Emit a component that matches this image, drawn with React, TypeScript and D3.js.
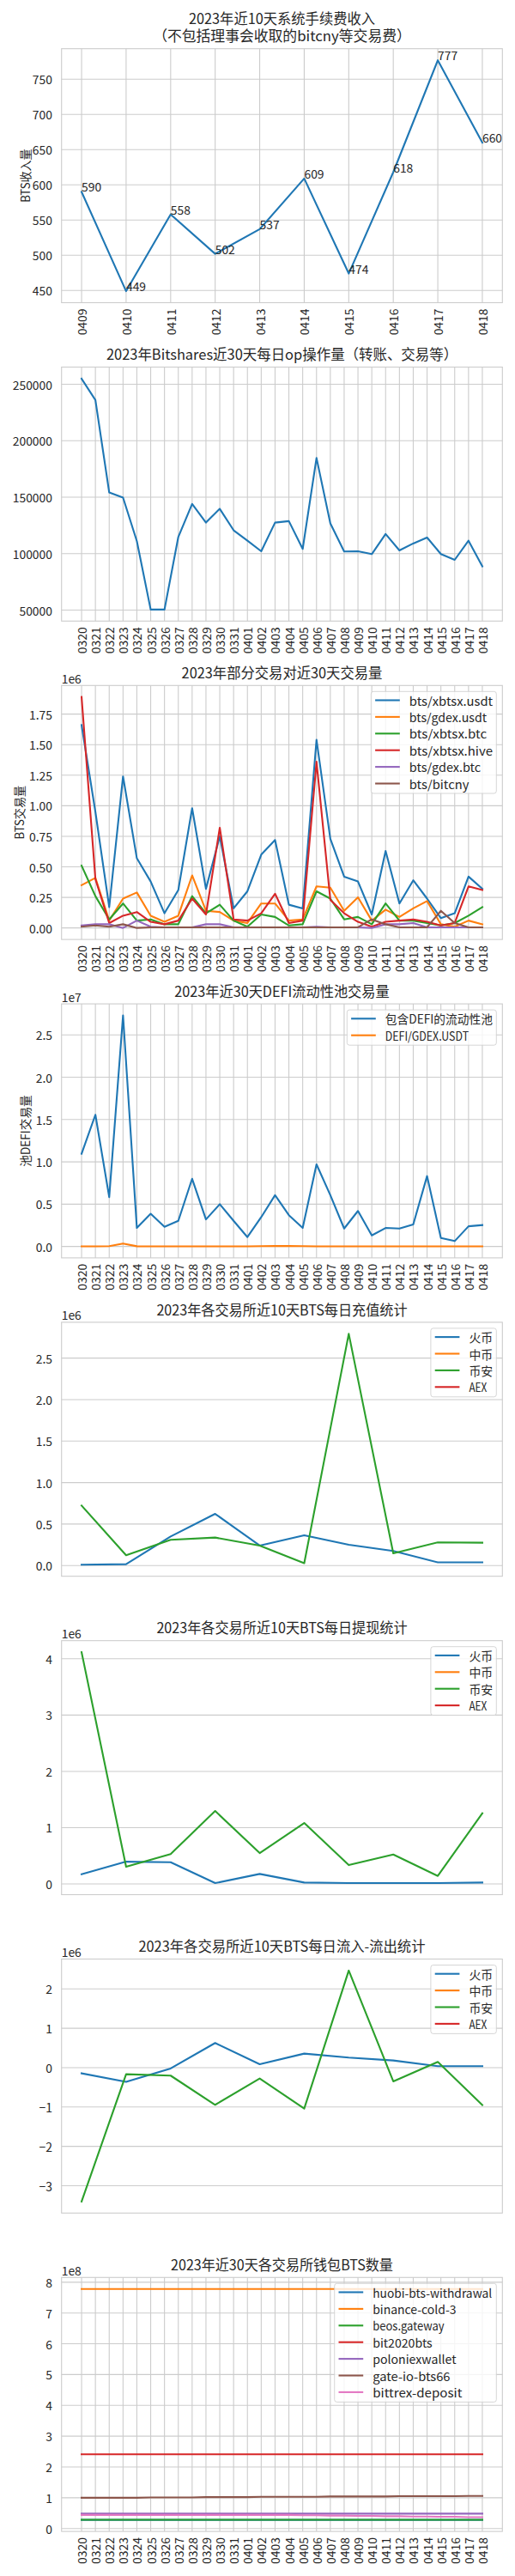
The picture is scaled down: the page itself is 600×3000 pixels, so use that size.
import React from "react";
import * as d3 from "d3";

const FONT = '"Noto Sans CJK SC", "Noto Sans", sans-serif';
const C = ["#1f77b4", "#ff7f0e", "#2ca02c", "#d62728", "#9467bd", "#8c564b", "#e377c2"];

// ---------- categories ----------
const days30 = ["0320","0321","0322","0323","0324","0325","0326","0327","0328","0329","0330","0331","0401","0402","0403","0404","0405","0406","0407","0408","0409","0410","0411","0412","0413","0414","0415","0416","0417","0418"];
const days10 = ["0409","0410","0411","0412","0413","0414","0415","0416","0417","0418"];

// ---------- panel 1: fee income ----------
const feeIncome = [590, 449, 558, 502, 537, 609, 474, 618, 777, 660];
const p1Ticks = [450, 500, 550, 600, 650, 700, 750];

// ---------- panel 2: daily op count ----------
const opCount = [255000,236000,154200,149600,111000,50500,50500,114800,144000,127500,139700,120700,111500,102100,127500,128800,104200,184700,126800,101900,102100,99600,117400,102900,109000,114300,99600,94500,111500,88700];
const p2Ticks = [50000, 100000, 150000, 200000, 250000];

// ---------- panel 3: pair volumes (x1e6) ----------
const xbtsxUsdt = [1.66,0.95,0.17,1.24,0.57,0.38,0.12,0.31,0.98,0.32,0.75,0.16,0.30,0.60,0.72,0.19,0.16,1.54,0.73,0.42,0.38,0.11,0.63,0.20,0.39,0.24,0.08,0.12,0.42,0.32];
const gdexUsdt = [0.35,0.41,0.06,0.24,0.29,0.10,0.05,0.10,0.43,0.14,0.13,0.06,0.04,0.20,0.20,0.06,0.07,0.34,0.33,0.14,0.25,0.06,0.15,0.09,0.16,0.22,0.03,0.01,0.06,0.03];
const xbtsxBtc = [0.51,0.26,0.07,0.20,0.06,0.07,0.03,0.03,0.26,0.12,0.19,0.06,0.01,0.11,0.09,0.02,0.03,0.30,0.24,0.07,0.09,0.03,0.20,0.06,0.06,0.04,0.02,0.04,0.10,0.17];
const xbtsxHive = [1.89,0.40,0.04,0.10,0.13,0.05,0.03,0.06,0.24,0.11,0.82,0.07,0.06,0.12,0.28,0.04,0.06,1.36,0.23,0.12,0.05,0.01,0.05,0.06,0.07,0.05,0.02,0.04,0.34,0.31];
const gdexBtc = [0.02,0.03,0.03,0.00,0.06,0.01,0.005,0.005,0.005,0.03,0.03,0.005,0.005,0.005,0.005,0.005,0.005,0.01,0.005,0.005,0.005,0.00,0.03,0.03,0.04,0.005,0.005,0.005,0.005,0.005];
const bitcny = [0.01,0.02,0.01,0.03,0.00,0.005,0.005,0.005,0.005,0.005,0.005,0.005,0.005,0.005,0.005,0.005,0.005,0.005,0.005,0.005,0.005,0.07,0.03,0.005,0.005,0.005,0.14,0.04,0.005,0.005];
const p3Ticks = [0, 0.25, 0.5, 0.75, 1, 1.25, 1.5, 1.75];

// ---------- panel 4: DEFI pools (x1e7) ----------
const defiPools = [1.095,1.556,0.583,2.73,0.219,0.387,0.232,0.303,0.80,0.32,0.50,0.303,0.111,0.347,0.606,0.37,0.219,0.97,0.606,0.212,0.42,0.131,0.219,0.212,0.26,0.832,0.10,0.064,0.239,0.253];
const defiGdexUsdt = [0.002,0.002,0.004,0.035,0.003,0.002,0.002,0.002,0.002,0.002,0.002,0.002,0.002,0.004,0.005,0.005,0.004,0.002,0.002,0.002,0.002,0.002,0.002,0.002,0.002,0.002,0.002,0.002,0.002,0.002];
const p4Ticks = [0, 0.5, 1, 1.5, 2, 2.5];

// ---------- panels 5-7: exchanges (x1e6) ----------
const exchanges = ["火币", "中币", "币安", "AEX"];
const huobiDeposit = [0.010,0.017,0.35,0.623,0.241,0.365,0.251,0.176,0.038,0.038];
const binanceDeposit = [0.723,0.124,0.31,0.337,0.241,0.028,2.793,0.148,0.279,0.275];
const huobiWithdraw = [0.173,0.396,0.386,0.015,0.178,0.025,0.015,0.015,0.015,0.025];
const binanceWithdraw = [4.117,0.305,0.529,1.296,0.549,1.083,0.335,0.523,0.142,1.255];
const huobiNet = [-0.145,-0.363,-0.022,0.625,0.087,0.356,0.254,0.182,0.036,0.036];
const binanceNet = [-3.40,-0.167,-0.203,-0.945,-0.276,-1.039,2.464,-0.349,0.145,-0.952];
const noData10: (number | null)[] = [null,null,null,null,null,null,null,null,null,null];
const p5Ticks = [0, 0.5, 1, 1.5, 2, 2.5];
const p6Ticks = [0, 1, 2, 3, 4];
const p7Ticks = [-3, -2, -1, 0, 1, 2];

// ---------- panel 8: wallets (x1e8) ----------
const wallets = ["huobi-bts-withdrawal","binance-cold-3","beos.gateway","bit2020bts","poloniexwallet","gate-io-bts66","bittrex-deposit"];
const huobiWallet = [0.28,0.28,0.28,0.28,0.28,0.28,0.28,0.28,0.28,0.28,0.28,0.28,0.28,0.28,0.28,0.28,0.28,0.28,0.28,0.28,0.28,0.28,0.28,0.28,0.28,0.28,0.28,0.28,0.28,0.28];
const binanceCold = [7.78,7.78,7.78,7.78,7.78,7.78,7.78,7.78,7.78,7.78,7.78,7.78,7.78,7.78,7.78,7.78,7.78,7.78,7.78,7.78,7.78,7.78,7.78,7.78,7.78,7.78,7.78,7.78,7.78,7.78];
const beosGateway = [0.285,0.285,0.285,0.285,0.285,0.285,0.285,0.285,0.285,0.285,0.285,0.285,0.285,0.285,0.285,0.285,0.285,0.285,0.285,0.285,0.285,0.285,0.285,0.285,0.285,0.285,0.285,0.285,0.285,0.285];
const bit2020 = [2.41,2.41,2.41,2.41,2.41,2.41,2.41,2.41,2.41,2.41,2.41,2.41,2.41,2.41,2.41,2.41,2.41,2.41,2.41,2.41,2.41,2.41,2.41,2.41,2.41,2.41,2.41,2.41,2.41,2.41];
const poloniex = [0.484,0.484,0.484,0.484,0.484,0.484,0.484,0.484,0.484,0.484,0.484,0.484,0.484,0.484,0.484,0.484,0.484,0.484,0.484,0.484,0.484,0.484,0.484,0.484,0.484,0.484,0.484,0.484,0.484,0.484];
const gateio = [1.00,1.00,1.00,1.00,1.00,1.01,1.01,1.01,1.01,1.02,1.02,1.02,1.02,1.03,1.03,1.03,1.03,1.03,1.04,1.04,1.04,1.04,1.04,1.05,1.05,1.05,1.05,1.05,1.06,1.06];
const bittrex = [0.44,0.44,0.44,0.44,0.44,0.44,0.44,0.44,0.44,0.44,0.44,0.44,0.44,0.44,0.44,0.44,0.43,0.43,0.42,0.42,0.41,0.41,0.40,0.40,0.39,0.39,0.38,0.38,0.37,0.37];
const p8Ticks = [0, 1, 2, 3, 4, 5, 6, 7, 8];

// ---------- layout ----------
const AX_L = 71.7;
const AX_R = 585.3;
const FIRST_TOP = 56.7;
const STEP = 370.8;
const AX_H = 295.8;
const FS = 13.9;
const TFS = 16.7;
const TXT = "#262626";
const GRID = "#cccccc";

type Series = { name: string; color: string; values: (number | null)[] };
type PanelSpec = {
  title: string[];
  categories: string[];
  showX: boolean;
  ticks: number[];
  fmt: string;
  offset?: string;
  yLabel?: string;
  yLabelX?: number;
  legendWidth?: number;
  annotate?: boolean;
  series: Series[];
};

function simLen(s: string, fs: number) {
  let n = 0;
  for (const ch of s) n += ch.charCodeAt(0) > 255 ? 1 : 0.5;
  return n * fs;
}

const panels: PanelSpec[] = [
  {
    title: ["2023年近10天系统手续费收入", "（不包括理事会收取的bitcny等交易费）"],
    categories: days10, showX: true, ticks: p1Ticks, fmt: "d",
    yLabel: "BTS收入量", yLabelX: 28.7, annotate: true,
    series: [{ name: "fee", color: C[0], values: feeIncome }],
  },
  {
    title: ["2023年Bitshares近30天每日op操作量（转账、交易等）"],
    categories: days30, showX: true, ticks: p2Ticks, fmt: "d",
    series: [{ name: "op", color: C[0], values: opCount }],
  },
  {
    title: ["2023年部分交易对近30天交易量"],
    categories: days30, showX: true, ticks: p3Ticks, fmt: ".2f", offset: "1e6",
    yLabel: "BTS交易量", yLabelX: 22, legendWidth: 146,
    series: [
      { name: "bts/xbtsx.usdt", color: C[0], values: xbtsxUsdt },
      { name: "bts/gdex.usdt", color: C[1], values: gdexUsdt },
      { name: "bts/xbtsx.btc", color: C[2], values: xbtsxBtc },
      { name: "bts/xbtsx.hive", color: C[3], values: xbtsxHive },
      { name: "bts/gdex.btc", color: C[4], values: gdexBtc },
      { name: "bts/bitcny", color: C[5], values: bitcny },
    ],
  },
  {
    title: ["2023年近30天DEFI流动性池交易量"],
    categories: days30, showX: true, ticks: p4Ticks, fmt: ".1f", offset: "1e7",
    yLabel: "池DEFI交易量", yLabelX: 28.7, legendWidth: 174,
    series: [
      { name: "包含DEFI的流动性池", color: C[0], values: defiPools },
      { name: "DEFI/GDEX.USDT", color: C[1], values: defiGdexUsdt },
    ],
  },
  {
    title: ["2023年各交易所近10天BTS每日充值统计"],
    categories: days10, showX: false, ticks: p5Ticks, fmt: ".1f", offset: "1e6", legendWidth: 76.4,
    series: [
      { name: exchanges[0], color: C[0], values: huobiDeposit },
      { name: exchanges[1], color: C[1], values: noData10 },
      { name: exchanges[2], color: C[2], values: binanceDeposit },
      { name: exchanges[3], color: C[3], values: noData10 },
    ],
  },
  {
    title: ["2023年各交易所近10天BTS每日提现统计"],
    categories: days10, showX: false, ticks: p6Ticks, fmt: "d", offset: "1e6", legendWidth: 76.4,
    series: [
      { name: exchanges[0], color: C[0], values: huobiWithdraw },
      { name: exchanges[1], color: C[1], values: noData10 },
      { name: exchanges[2], color: C[2], values: binanceWithdraw },
      { name: exchanges[3], color: C[3], values: noData10 },
    ],
  },
  {
    title: ["2023年各交易所近10天BTS每日流入-流出统计"],
    categories: days10, showX: false, ticks: p7Ticks, fmt: "d", offset: "1e6", legendWidth: 76.4,
    series: [
      { name: exchanges[0], color: C[0], values: huobiNet },
      { name: exchanges[1], color: C[1], values: noData10 },
      { name: exchanges[2], color: C[2], values: binanceNet },
      { name: exchanges[3], color: C[3], values: noData10 },
    ],
  },
  {
    title: ["2023年近30天各交易所钱包BTS数量"],
    categories: days30, showX: true, ticks: p8Ticks, fmt: "d", offset: "1e8", legendWidth: 188.6,
    series: [
      { name: wallets[0], color: C[0], values: huobiWallet },
      { name: wallets[1], color: C[1], values: binanceCold },
      { name: wallets[2], color: C[2], values: beosGateway },
      { name: wallets[3], color: C[3], values: bit2020 },
      { name: wallets[4], color: C[4], values: poloniex },
      { name: wallets[5], color: C[5], values: gateio },
      { name: wallets[6], color: C[6], values: bittrex },
    ],
  },
];

function Panel({ spec, index }: { spec: PanelSpec; index: number }) {
  const top = FIRST_TOP + index * STEP;
  const bottom = top + AX_H;
  const n = spec.categories.length;
  const x = d3.scaleLinear().domain([-(n - 1) * 0.05, (n - 1) * 1.05]).range([AX_L, AX_R]);
  const all: number[] = [];
  spec.series.forEach((s) => s.values.forEach((v) => { if (v != null) all.push(v); }));
  const mn = d3.min(all) as number;
  const mx = d3.max(all) as number;
  const pad = (mx - mn) * 0.05;
  const y = d3.scaleLinear().domain([mn - pad, mx + pad]).range([bottom, top]);
  const fmt = d3.format(spec.fmt);
  const line = d3
    .line<number | null>()
    .defined((v) => v != null)
    .x((_, i) => x(i))
    .y((v) => y(v as number));
  const cx = (AX_L + AX_R) / 2;
  const nt = spec.title.length;

  const legend = spec.legendWidth
    ? (() => {
        const w = spec.legendWidth as number;
        const k = spec.series.length;
        const rowH = 19.4;
        const h = 21.7 + (k - 1) * rowH;
        const lx = AX_R - 7 - w;
        const ly = top + 7;
        return (
          <g>
            <rect x={lx} y={ly} width={w} height={h} rx={2.8} fill="#fff" fillOpacity={0.8} stroke={GRID} strokeOpacity={0.8} strokeWidth={1} />
            {spec.series.map((s, i) => {
              const ry = ly + 10.2 + i * rowH;
              return (
                <g key={i}>
                  <line x1={lx + 4.8} x2={lx + 33.5} y1={ry} y2={ry} stroke={s.color} strokeWidth={2.1} />
                  <text x={lx + 44.5} y={ry} dominantBaseline="central" fontSize={FS} fill={TXT}
                    textLength={simLen(s.name, FS)} lengthAdjust="spacingAndGlyphs">{s.name}</text>
                </g>
              );
            })}
          </g>
        );
      })()
    : null;

  return (
    <g>
      {spec.title.map((t, i) => (
        <text key={i} x={cx} y={top - 8.3 - (nt - 1 - i) * 20} textAnchor="middle" fontSize={TFS} fill={TXT}
          textLength={simLen(t, TFS)} lengthAdjust="spacingAndGlyphs">{t}</text>
      ))}
      {spec.ticks.map((t) => (
        <line key={"g" + t} x1={AX_L} x2={AX_R} y1={y(t)} y2={y(t)} stroke={GRID} strokeWidth={1.1} />
      ))}
      {spec.showX &&
        spec.categories.map((c, i) => (
          <line key={"v" + c} x1={x(i)} x2={x(i)} y1={top} y2={bottom} stroke={GRID} strokeWidth={1.1} />
        ))}
      {spec.ticks.map((t) => (
        <text key={"t" + t} x={61} y={y(t)} textAnchor="end" dominantBaseline="central" fontSize={FS} fill={TXT}>
          {fmt(t)}
        </text>
      ))}
      {spec.showX &&
        spec.categories.map((c, i) => (
          <text key={"x" + c} transform={`translate(${x(i)},${bottom + 7}) rotate(-90)`} textAnchor="end"
            dominantBaseline="central" fontSize={FS} fill={TXT}>{c}</text>
        ))}
      {spec.series.map((s, i) => (
        <path key={"s" + i} d={line(s.values) || ""} fill="none" stroke={s.color} strokeWidth={2.1}
          strokeLinejoin="round" strokeLinecap="square" />
      ))}
      {spec.annotate &&
        spec.series[0].values.map((v, i) => (
          <text key={"a" + i} x={x(i)} y={y(v as number)} fontSize={FS} fill={TXT}>{String(v)}</text>
        ))}
      <rect x={AX_L} y={top} width={AX_R - AX_L} height={AX_H} fill="none" stroke={GRID} strokeWidth={1.1} />
      {spec.offset && (
        <text x={AX_L} y={top - 2.5} fontSize={FS} fill={TXT}>{spec.offset}</text>
      )}
      {spec.yLabel && (
        <text transform={`translate(${spec.yLabelX},${(top + bottom) / 2}) rotate(-90)`} textAnchor="middle"
          dominantBaseline="central" fontSize={FS} fill={TXT}
          textLength={simLen(spec.yLabel, FS)} lengthAdjust="spacingAndGlyphs">{spec.yLabel}</text>
      )}
      {legend}
    </g>
  );
}

export default function App() {
  return (
    <svg width={600} height={3000} style={{ position: "absolute", left: 0, top: 0 }} fontFamily={FONT}>
      <rect width={600} height={3000} fill="#fff" />
      {panels.map((p, i) => (
        <Panel key={i} spec={p} index={i} />
      ))}
    </svg>
  );
}
